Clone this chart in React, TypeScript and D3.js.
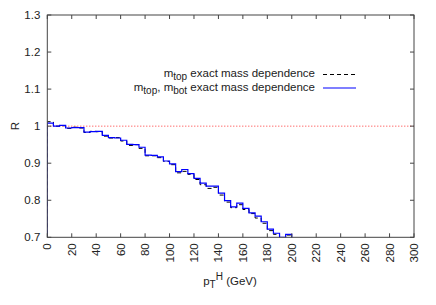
import React from "react";
import * as d3 from "d3";

// bin edges of the histogram (GeV), 5 GeV wide
const binEdges = [
  0, 5, 10, 15, 20, 25, 30, 35, 40, 45, 50, 55, 60, 65, 70, 75, 80, 85, 90, 95,
  100, 105, 110, 115, 120, 125, 130, 135, 140, 145, 150, 155, 160, 165, 170,
  175, 180, 185, 190, 195, 200,
];

// m_top exact mass dependence (dashed black)
const topOnly = [
  1.012, 1.0, 1.001, 0.994, 0.997, 0.995, 0.983, 0.986, 0.985, 0.973, 0.968,
  0.969, 0.96, 0.948, 0.95, 0.94, 0.92, 0.92, 0.915, 0.905, 0.896, 0.874,
  0.878, 0.87, 0.856, 0.842, 0.832, 0.835, 0.814, 0.795, 0.78, 0.788, 0.775,
  0.764, 0.752, 0.738, 0.718, 0.708, 0.698, 0.706,
];

// m_top, m_bot exact mass dependence (solid blue)
const topBot = [
  1.008, 1.0, 1.002, 0.995, 0.996, 0.996, 0.984, 0.985, 0.986, 0.975, 0.969,
  0.968, 0.962, 0.951, 0.95, 0.943, 0.922, 0.921, 0.917, 0.906, 0.898, 0.877,
  0.883, 0.872, 0.859, 0.846, 0.838, 0.838, 0.819, 0.799, 0.782, 0.792, 0.778,
  0.766, 0.757, 0.742, 0.722, 0.711, 0.7, 0.708,
];

const xTicks = d3.range(0, 301, 20);
const yTicks = [0.7, 0.8, 0.9, 1, 1.1, 1.2, 1.3];

const W = 436;
const H = 305;
const m = { left: 47.3, right: 22, top: 15, bottom: 67.7 };

const font = "'Liberation Sans', Arial, sans-serif";

export default function App() {
  const x = d3.scaleLinear().domain([0, 300]).range([m.left, W - m.right]);
  const y = d3.scaleLinear().domain([0.7, 1.3]).range([H - m.bottom, m.top]);

  // histeps: rise from the bottom at the first edge, drop at the last edge
  const stepPath = (vals: number[]) => {
    const pts: [number, number][] = [[binEdges[0], 0.5]];
    vals.forEach((v, i) => pts.push([binEdges[i], v]));
    pts.push([binEdges[vals.length], vals[vals.length - 1]]);
    pts.push([binEdges[vals.length], 0.5]);
    const line = d3
      .line<[number, number]>()
      .x((d) => x(d[0]))
      .y((d) => y(d[1]))
      .curve(d3.curveStepAfter);
    return line(pts) || "";
  };

  const x0 = x(0);
  const x1 = x(300);
  const y0 = y(0.7);
  const y1 = y(1.3);
  const tk = 4;

  return (
    <svg
      width={W}
      height={H}
      style={{ position: "absolute", left: 0, top: 0, background: "white" }}
      fontFamily={font}
    >
      <defs>
        <clipPath id="plotclip">
          <rect x={x0} y={y1} width={x1 - x0} height={y0 - y1} />
        </clipPath>
      </defs>

      {/* reference line at R = 1 */}
      <line
        x1={x0}
        x2={x1}
        y1={y(1)}
        y2={y(1)}
        stroke="#ff3030"
        strokeWidth={1}
        strokeDasharray="1,2"
      />

      <g clipPath="url(#plotclip)">
        <path
          d={stepPath(topOnly)}
          fill="none"
          stroke="black"
          strokeWidth={1}
          strokeDasharray="4,3"
        />
        <path d={stepPath(topBot)} fill="none" stroke="#0000ff" strokeWidth={1.2} />
      </g>

      {/* frame */}
      <rect
        x={x0}
        y={y1}
        width={x1 - x0}
        height={y0 - y1}
        fill="none"
        stroke="#444"
        strokeWidth={1}
      />

      {/* y ticks */}
      {yTicks.map((t) => (
        <g key={"y" + t}>
          <line x1={x0} x2={x0 + tk} y1={y(t)} y2={y(t)} stroke="#444" />
          <line x1={x1} x2={x1 - tk} y1={y(t)} y2={y(t)} stroke="#444" />
          <text
            x={x0 - 7}
            y={y(t)}
            dy="0.35em"
            textAnchor="end"
            fontSize={11.5}
            fill="#222"
          >
            {t === 1 ? "1" : d3.format(".1f")(t)}
          </text>
        </g>
      ))}

      {/* x ticks */}
      {xTicks.map((t) => (
        <g key={"x" + t}>
          <line x1={x(t)} x2={x(t)} y1={y0} y2={y0 - tk} stroke="#444" />
          <line x1={x(t)} x2={x(t)} y1={y1} y2={y1 + tk} stroke="#444" />
          <text
            transform={`translate(${x(t)},${y0 + 6}) rotate(-90)`}
            dy="0.35em"
            textAnchor="end"
            fontSize={11.5}
            fill="#222"
          >
            {t}
          </text>
        </g>
      ))}

      {/* axis labels */}
      <text
        transform={`translate(15,${y(1)}) rotate(-90)`}
        dy="0.35em"
        textAnchor="middle"
        fontSize={11.5}
        fill="#222"
      >
        R
      </text>
      <text x={230} y={285} textAnchor="middle" fontSize={11.5} fill="#222">
        p
        <tspan dy={3} fontSize={10}>
          T
        </tspan>
        <tspan dy={-8} fontSize={10}>
          H
        </tspan>
        <tspan dy={5}> (GeV)</tspan>
      </text>

      {/* legend */}
      <text x={315} y={77} textAnchor="end" fontSize={11.5} fill="#222">
        m<tspan dy={3} fontSize={10}>top</tspan>
        <tspan dy={-3}> exact mass dependence</tspan>
      </text>
      <line x1={323} x2={356} y1={74.5} y2={74.5} stroke="black" strokeDasharray="4,3" />
      <text x={315} y={91} textAnchor="end" fontSize={11.5} fill="#222">
        m<tspan dy={3} fontSize={10}>top</tspan>
        <tspan dy={-3}>, m</tspan>
        <tspan dy={3} fontSize={10}>bot</tspan>
        <tspan dy={-3}> exact mass dependence</tspan>
      </text>
      <line x1={323} x2={356} y1={88} y2={88} stroke="#0000ff" strokeWidth={1.2} />
    </svg>
  );
}
